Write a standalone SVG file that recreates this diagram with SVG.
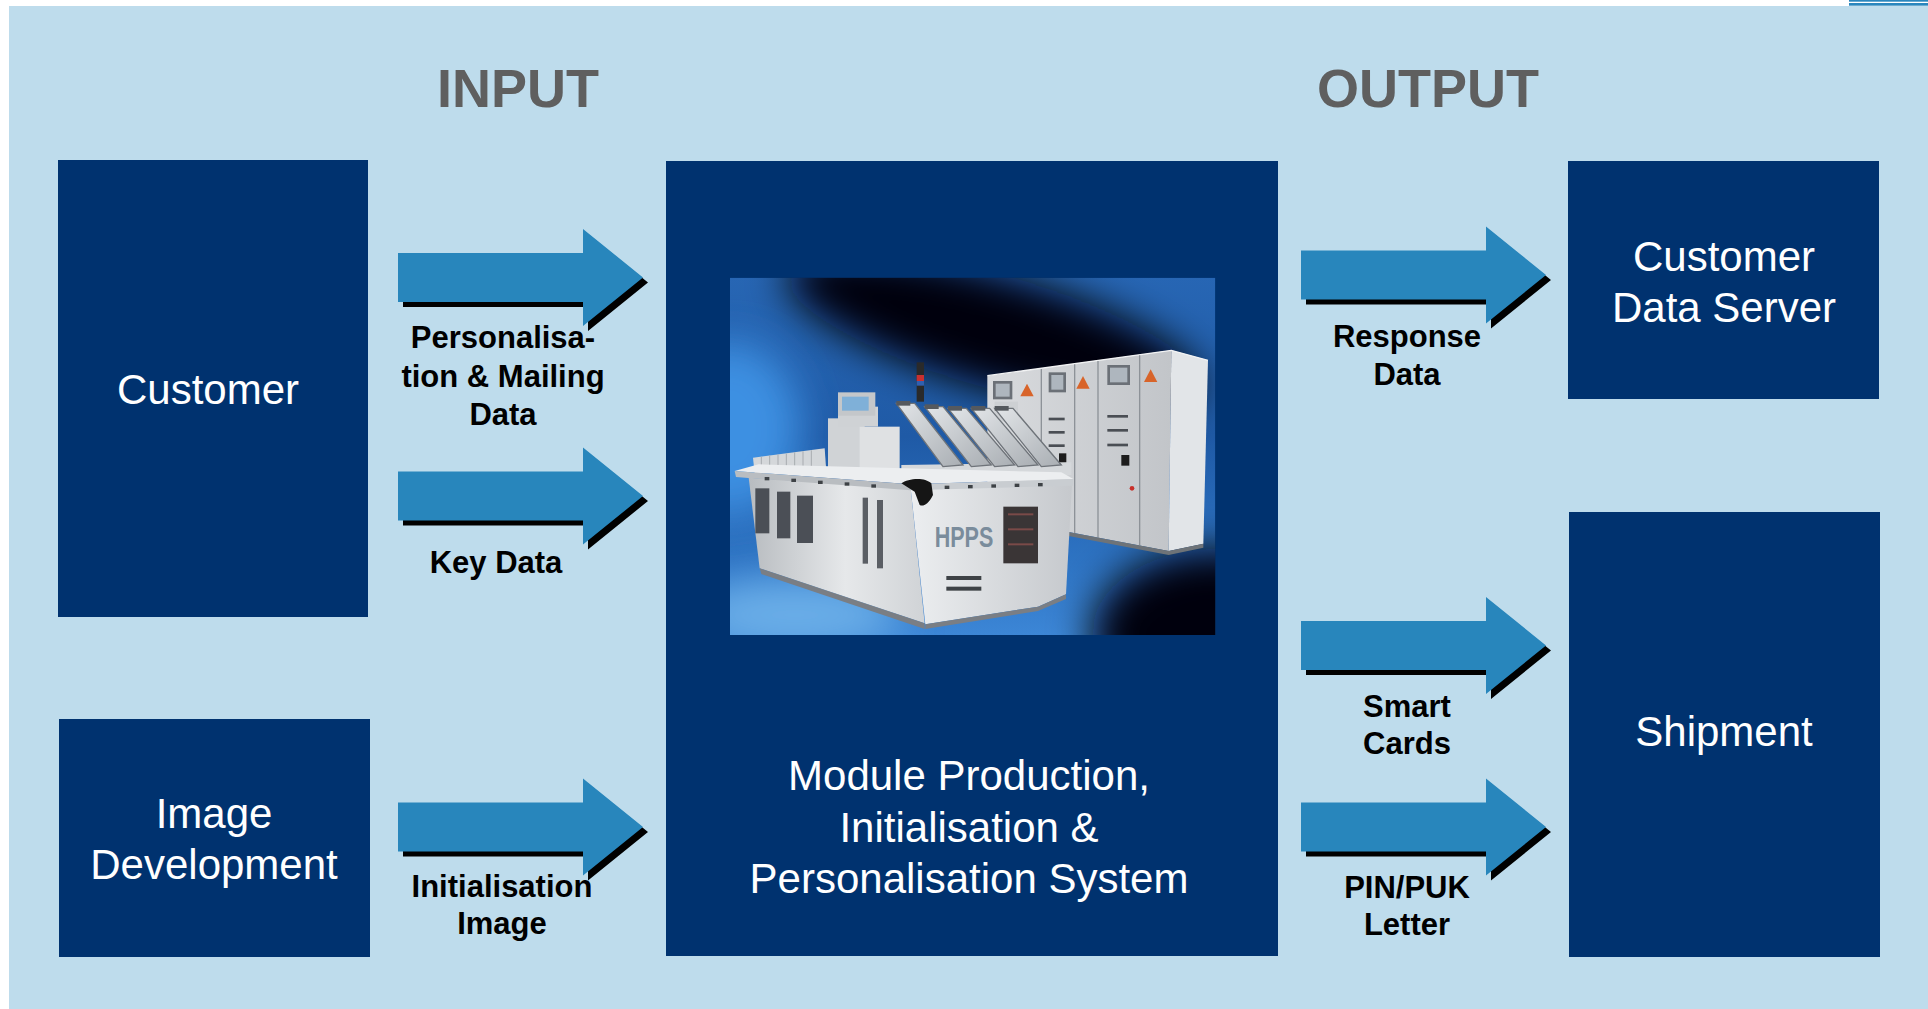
<svg xmlns="http://www.w3.org/2000/svg" width="1928" height="1009" viewBox="0 0 1928 1009">
<defs>
<style>
.bg{fill:#BEDCEC}
.box{fill:#00326F}
.boxtxt{font-family:"Liberation Sans",Arial,sans-serif;font-size:42px;fill:#FFFFFF;text-anchor:middle}
.lbl{font-family:"Liberation Sans",Arial,sans-serif;font-size:31px;font-weight:bold;fill:#000000;text-anchor:middle}
.head{font-family:"Liberation Sans",Arial,sans-serif;font-size:54px;font-weight:bold;fill:#5F5F5F;text-anchor:middle}
.arrow{fill:#2886BC}
.shadow{fill:#000000}
.pline{stroke:#8D9298;stroke-width:4;fill:none}
.slot{fill:#4A4E54}
.warn{fill:#D8642A}
.hop{fill:url(#hopGrad);stroke:#6F747A;stroke-width:4}
.cap{fill:#55595E}
.tab{fill:#3E4246}
</style>
<path id="arrowShape" d="M0,-24.5 H185 V-48.5 L245,0 L185,48.5 V24.5 H0 Z"/>
<g id="blockArrow"><use href="#arrowShape" class="shadow" x="5" y="5"/><use href="#arrowShape" class="arrow"/></g>
<linearGradient id="photoBase" gradientUnits="userSpaceOnUse" x1="0" y1="0" x2="0" y2="1080">
<stop offset="0" stop-color="#2766B4"/>
<stop offset="0.45" stop-color="#1F5AA6"/>
<stop offset="0.8" stop-color="#2E74C4"/>
<stop offset="1" stop-color="#3C86D6"/>
</linearGradient>
<linearGradient id="cabGrad" x1="0" y1="0" x2="1" y2="0">
<stop offset="0" stop-color="#D9DBDE"/>
<stop offset="1" stop-color="#C2C5C9"/>
</linearGradient>
<linearGradient id="sideGrad" x1="0" y1="0" x2="1" y2="0">
<stop offset="0" stop-color="#B8BCC0"/>
<stop offset="0.55" stop-color="#E6E8EA"/>
<stop offset="1" stop-color="#D0D3D6"/>
</linearGradient>
<linearGradient id="frontGrad" x1="0" y1="0" x2="1" y2="0">
<stop offset="0" stop-color="#ECEEF0"/>
<stop offset="1" stop-color="#C6C9CD"/>
</linearGradient>
<linearGradient id="hopGrad" x1="0" y1="0" x2="1" y2="1">
<stop offset="0" stop-color="#E2E5E8"/>
<stop offset="1" stop-color="#A9AEB3"/>
</linearGradient>
<filter id="blur" x="-60%" y="-60%" width="220%" height="220%">
<feGaussianBlur stdDeviation="60"/>
</filter>
<clipPath id="photoClip"><rect x="6" y="8" width="1456" height="1072"/></clipPath>
</defs>

<rect class="bg" x="9" y="6" width="1919" height="1003"/>
<rect x="1849" y="0" width="79" height="1.7" fill="#2A86BD"/>
<rect x="1849" y="3" width="79" height="2.7" fill="#2A86BD"/>

<text class="head" x="518" y="107">INPUT</text>
<text class="head" x="1428" y="107">OUTPUT</text>

<g id="customer">
<rect class="box" x="58" y="160" width="310" height="457"/>
<text class="boxtxt" x="208" y="404">Customer</text>
</g>

<g id="image-development">
<rect class="box" x="59" y="719" width="311" height="238"/>
<text class="boxtxt" x="214" y="828">Image</text>
<text class="boxtxt" x="214" y="879">Development</text>
</g>

<g id="hpps-system">
<rect class="box" x="666" y="161" width="612" height="795"/>
<g id="photo" transform="translate(728,275) scale(0.33333)">
<g clip-path="url(#photoClip)">
<rect x="6" y="8" width="1456" height="1072" fill="url(#photoBase)"/>
<ellipse cx="0" cy="460" rx="220" ry="260" fill="#3E90E2" filter="url(#blur)"/>
<ellipse cx="200" cy="1020" rx="320" ry="110" fill="#6AAEE8" filter="url(#blur)"/>
<ellipse cx="800" cy="170" rx="650" ry="170" transform="rotate(16 800 170)" fill="#03060C" filter="url(#blur)"/>
<ellipse cx="1470" cy="1080" rx="380" ry="260" fill="#020408" filter="url(#blur)"/>

<!-- cabinet -->
<polygon points="778,302 1330,226 1322,828 1018,770 1018,640 778,640" fill="url(#cabGrad)"/>
<polygon points="1330,226 1440,256 1426,806 1322,828" fill="#E2E5E8"/>
<polyline points="778,302 1330,226 1440,256" fill="none" stroke="#F2F3F4" stroke-width="4"/>
<line class="pline" x1="940" y1="282" x2="940" y2="640"/>
<line class="pline" x1="1040" y1="268" x2="1040" y2="775"/>
<line class="pline" x1="1110" y1="258" x2="1110" y2="790"/>
<line class="pline" x1="1235" y1="241" x2="1235" y2="815"/>
<rect x="795" y="318" width="58" height="55" fill="#6B7077"/>
<rect x="803" y="326" width="42" height="39" fill="#AEB6BE"/>
<rect x="962" y="292" width="52" height="60" fill="#6B7077"/>
<rect x="970" y="300" width="36" height="44" fill="#AEB6BE"/>
<rect x="1138" y="270" width="68" height="60" fill="#6B7077"/>
<rect x="1146" y="278" width="52" height="44" fill="#AEB6BE"/>
<polygon class="warn" points="897,326 917,364 877,364"/>
<polygon class="warn" points="1065,303 1085,341 1045,341"/>
<polygon class="warn" points="1268,283 1288,321 1248,321"/>
<rect class="slot" x="962" y="428" width="48" height="8"/>
<rect class="slot" x="962" y="468" width="48" height="8"/>
<rect class="slot" x="962" y="508" width="48" height="8"/>
<rect class="slot" x="1138" y="420" width="62" height="8"/>
<rect class="slot" x="1138" y="462" width="62" height="8"/>
<rect class="slot" x="1138" y="506" width="62" height="8"/>
<rect x="993" y="535" width="22" height="28" fill="#1D1D1D"/>
<rect x="1180" y="540" width="24" height="32" fill="#1D1D1D"/>
<circle cx="1212" cy="640" r="7" fill="#C8302A"/>
<polygon points="1018,770 1322,828 1426,806 1426,818 1322,840 1018,782" fill="#6E7378"/>

<!-- upper structures on table -->
<polygon points="75,548 290,520 295,590 80,595" fill="#D4D7DA"/>
<path d="M100,545 V592 M125,542 V592 M150,539 V592 M175,536 V591 M200,532 V591 M225,529 V590 M250,526 V590" stroke="#A8ACB0" stroke-width="3"/>
<rect x="300" y="430" width="110" height="165" fill="#D0D3D6"/>
<rect x="395" y="455" width="120" height="150" fill="#DFE1E3"/>
<rect x="330" y="395" width="120" height="60" fill="#CFD2D5"/>
<rect x="330" y="352" width="112" height="70" fill="#C4C7CA"/>
<rect x="342" y="365" width="80" height="42" fill="#7FB0D8"/>
<rect x="566" y="262" width="22" height="118" fill="#2A2A2A"/>
<rect x="566" y="300" width="22" height="18" fill="#C83030"/>
<rect x="566" y="318" width="22" height="14" fill="#3060B0"/>
<rect x="800" y="380" width="70" height="60" fill="#CDD0D3"/>
<polygon points="520,570 1030,562 1030,600 520,612" fill="#D5D8DB"/>
<polygon class="hop" points="505,385 560,385 705,570 645,575"/>
<polygon class="hop" points="590,395 645,395 790,570 730,575"/>
<polygon class="hop" points="660,400 715,400 860,570 800,575"/>
<polygon class="hop" points="730,400 785,400 930,570 870,575"/>
<polygon class="hop" points="800,400 855,400 1000,570 940,575"/>
<rect class="cap" x="505" y="378" width="42" height="14"/>
<rect class="cap" x="590" y="388" width="42" height="14"/>
<rect class="cap" x="660" y="393" width="42" height="14"/>
<rect class="cap" x="730" y="393" width="42" height="14"/>
<rect class="cap" x="800" y="393" width="42" height="14"/>

<!-- main unit -->
<polygon points="62,608 548,640 590,1045 95,880" fill="url(#sideGrad)"/>
<rect x="82" y="640" width="42" height="135" fill="#4B4F56"/>
<rect x="147" y="650" width="40" height="140" fill="#4B4F56"/>
<rect x="207" y="662" width="48" height="142" fill="#4B4F56"/>
<rect x="404" y="668" width="16" height="198" fill="#5A5E64"/>
<rect x="447" y="675" width="18" height="205" fill="#5A5E64"/>
<polygon points="95,880 590,1045 590,1062 100,897" fill="#7A7E84"/>
<polygon points="548,640 1032,628 1014,958 930,995 592,1048" fill="url(#frontGrad)"/>
<text x="620" y="815" font-family="'Liberation Sans',Arial,sans-serif" font-size="88" font-weight="bold" fill="#7A8C9C" textLength="176" lengthAdjust="spacingAndGlyphs">HPPS</text>
<rect x="826" y="695" width="104" height="170" fill="#3A3536"/>
<rect x="840" y="715" width="76" height="6" fill="#7A4A48"/>
<rect x="840" y="760" width="76" height="6" fill="#7A4A48"/>
<rect x="840" y="805" width="76" height="6" fill="#7A4A48"/>
<rect class="tab" x="655" y="903" width="105" height="12"/>
<rect class="tab" x="655" y="935" width="105" height="12"/>
<polygon points="592,1048 930,995 1014,958 1014,972 930,1008 592,1062" fill="#7A7E84"/>
<polygon points="20,588 92,568 1000,592 1036,612 548,628" fill="#ECEEF0"/>
<polygon points="20,588 548,628 548,646 24,606" fill="#B9BDC1"/>
<polygon points="548,628 1036,612 1036,632 548,646" fill="#C9CDD1"/>
<rect class="tab" x="110" y="606" width="14" height="10"/>
<rect class="tab" x="190" y="611" width="14" height="10"/>
<rect class="tab" x="270" y="617" width="14" height="10"/>
<rect class="tab" x="350" y="622" width="14" height="10"/>
<rect class="tab" x="430" y="628" width="14" height="10"/>
<rect class="tab" x="650" y="632" width="14" height="10"/>
<rect class="tab" x="720" y="630" width="14" height="10"/>
<rect class="tab" x="790" y="628" width="14" height="10"/>
<rect class="tab" x="860" y="626" width="14" height="10"/>
<rect class="tab" x="930" y="624" width="14" height="10"/>
<path d="M520,625 C540,610 590,605 610,625 L615,660 C600,690 585,695 575,690 L560,650 Z" fill="#151515"/>
</g>
</g>
<text class="boxtxt" x="969" y="790">Module Production,</text>
<text class="boxtxt" x="969" y="842">Initialisation &amp;</text>
<text class="boxtxt" x="969" y="893">Personalisation System</text>
</g>

<g id="customer-data-server">
<rect class="box" x="1568" y="161" width="311" height="238"/>
<text class="boxtxt" x="1724" y="271">Customer</text>
<text class="boxtxt" x="1724" y="322">Data Server</text>
</g>

<g id="shipment">
<rect class="box" x="1569" y="512" width="311" height="445"/>
<text class="boxtxt" x="1724" y="746">Shipment</text>
</g>

<g id="connectors">
<g id="c-personalisation">
<use href="#blockArrow" x="398" y="277.5"/>
<text class="lbl" x="503" y="348">Personalisa-</text>
<text class="lbl" x="503" y="386.5">tion &amp; Mailing</text>
<text class="lbl" x="503" y="425">Data</text>
</g>
<g id="c-keydata">
<use href="#blockArrow" x="398" y="496"/>
<text class="lbl" x="496" y="573">Key Data</text>
</g>
<g id="c-initimage">
<use href="#blockArrow" x="398" y="827"/>
<text class="lbl" x="502" y="897">Initialisation</text>
<text class="lbl" x="502" y="934">Image</text>
</g>
<g id="c-response">
<use href="#blockArrow" x="1301" y="275"/>
<text class="lbl" x="1407" y="347">Response</text>
<text class="lbl" x="1407" y="385">Data</text>
</g>
<g id="c-smartcards">
<use href="#blockArrow" x="1301" y="645.5"/>
<text class="lbl" x="1407" y="717">Smart</text>
<text class="lbl" x="1407" y="754">Cards</text>
</g>
<g id="c-pinpuk">
<use href="#blockArrow" x="1301" y="827"/>
<text class="lbl" x="1407" y="898">PIN/PUK</text>
<text class="lbl" x="1407" y="935">Letter</text>
</g>
</g>
</svg>
